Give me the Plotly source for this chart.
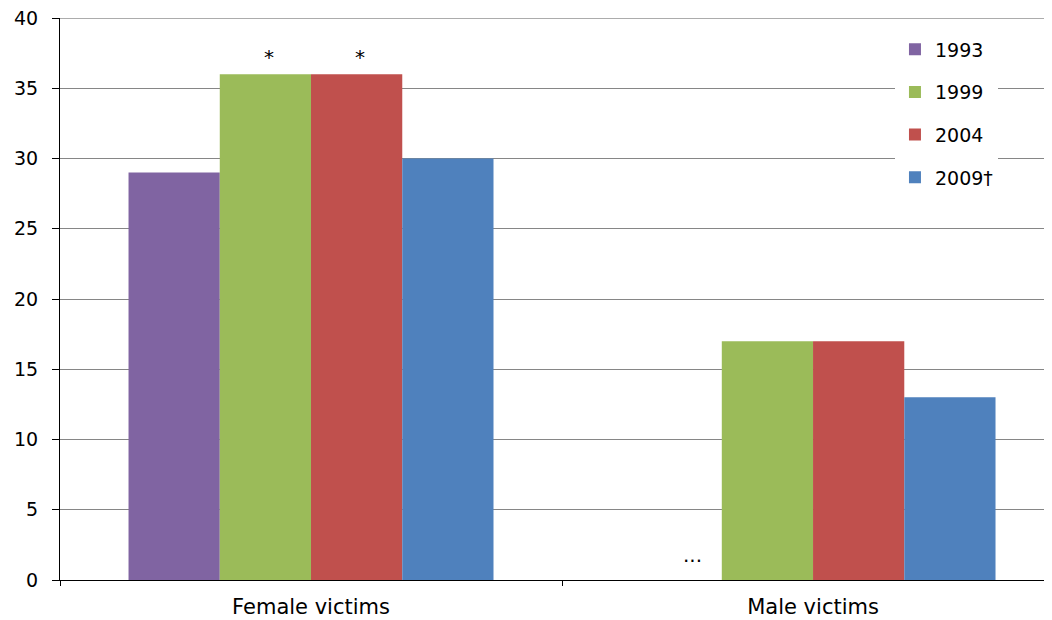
import plotly.graph_objects as go

categories = ["Female victims", "Male victims"]
years = ["1993", "1999", "2004", "2009†"]
colors = ["#8064a2", "#9bbb59", "#c0504d", "#4f81bd"]
values = {
    "1993": [29, None],
    "1999": [36, 17],
    "2004": [36, 17],
    "2009†": [30, 13],
}
y_ticks = [0, 5, 10, 15, 20, 25, 30, 35, 40]
y_max = 40

FONT = "DejaVu Sans"

fig = go.Figure()
for i, yr in enumerate(years):
    fig.add_trace(go.Bar(
        x=categories, y=values[yr], name=yr,
        marker=dict(color=colors[i], line=dict(width=0)),
        legendgroup=yr,
    ))

# top border line at the axis maximum
fig.add_shape(type="line", xref="paper", yref="y", x0=0, x1=1, y0=y_max, y1=y_max,
              line=dict(color="#5a5a5a", width=1), layer="below")

# annotations: significance markers and missing value
fig.add_annotation(x=categories[0], y=values["1999"][0], text="*", showarrow=False,
                   xshift=-42, yshift=17, font=dict(family=FONT, size=20, color="#000"))
fig.add_annotation(x=categories[0], y=values["2004"][0], text="*", showarrow=False,
                   xshift=49, yshift=17, font=dict(family=FONT, size=20, color="#000"))
fig.add_annotation(x=categories[1], y=0, text="...", showarrow=False,
                   xshift=-121, yshift=25, font=dict(family=FONT, size=20, color="#000"))

fig.update_layout(
    width=1044, height=612,
    margin=dict(l=52, r=0, t=10, b=40, autoexpand=False),
    plot_bgcolor="white", paper_bgcolor="white",
    barmode="group", bargap=0.273, bargroupgap=0,
    font=dict(family=FONT, size=19, color="#000"),
    showlegend=True,
    legend=dict(x=0.8417, y=0.978, xanchor="left", yanchor="top",
                font=dict(family=FONT, size=19, color="#000"),
                tracegroupgap=15, itemwidth=30, bgcolor="white",
                entrywidth=97, entrywidthmode="pixels"),
    xaxis=dict(range=[-0.5, 1.476], showgrid=False, showline=True, linecolor="#000",
               linewidth=1, ticks="outside", tickson="boundaries", ticklen=5,
               tickcolor="#000", ticklabelstandoff=8, tickfont=dict(family=FONT, size=21)),
    yaxis=dict(range=[0, y_max], tickvals=y_ticks, showgrid=True, gridcolor="#868686",
               gridwidth=1, showline=True, linecolor="#000", linewidth=1,
               ticks="outside", ticklen=7, tickcolor="#000", zeroline=False,
               ticklabelstandoff=10, ticklabeloverflow="allow",
               tickfont=dict(family=FONT, size=19)),
)

fig.write_html("out.html")
